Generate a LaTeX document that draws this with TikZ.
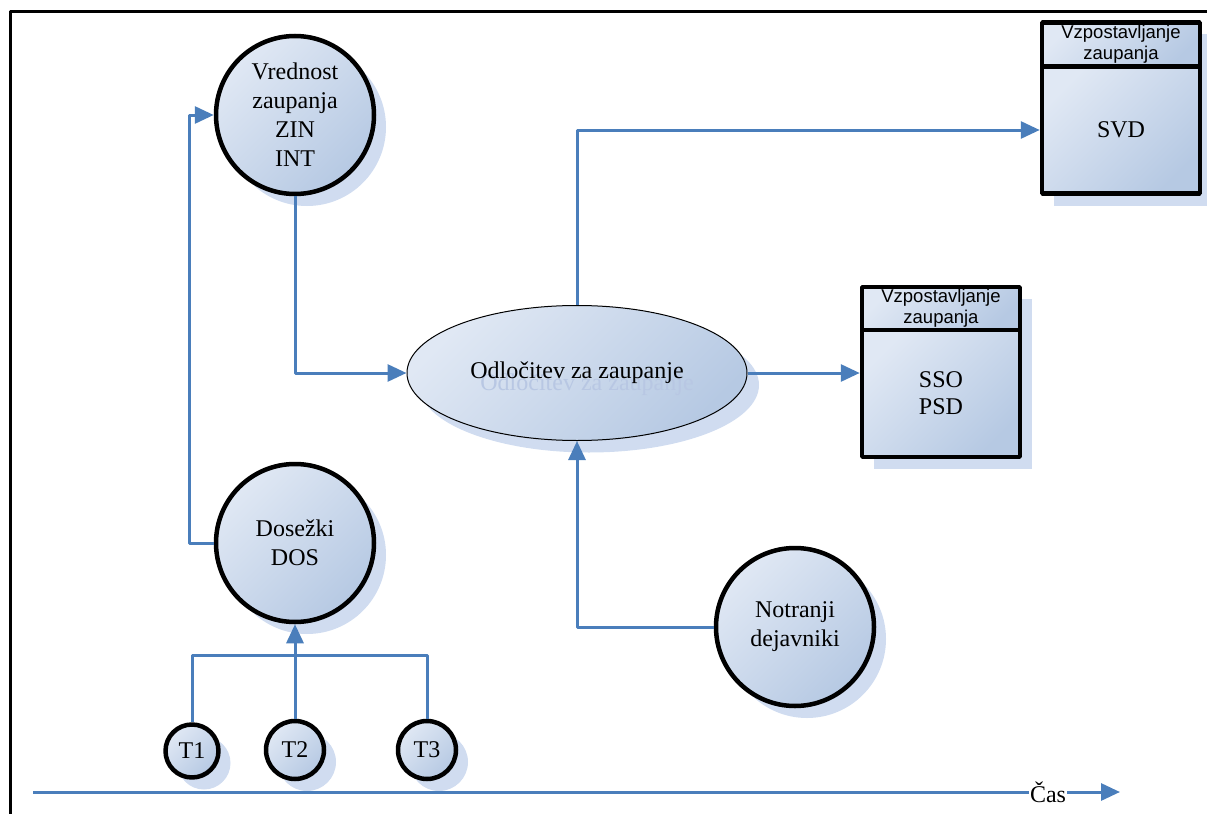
\documentclass[tikz,border=0pt]{standalone}
\usepackage{fontspec}
\setmainfont{Liberation Serif}
\newfontfamily\headfont{Liberation Sans}
\usetikzlibrary{shapes.geometric,shadows,arrows.meta}

\definecolor{edgecol}{RGB}{74,126,187}
\definecolor{filllt}{RGB}{224,232,244}
\definecolor{filldk}{RGB}{182,201,227}
\definecolor{shadecol}{RGB}{208,220,240}
\definecolor{ghostcol}{RGB}{184,199,227}

\begin{document}
\begin{tikzpicture}[x=1bp,y=-1bp,>={Triangle[length=19bp,width=17bp]},line join=bevel,
  flow/.style={draw=edgecol,line width=3bp},
  softfill/.style={top color=filllt,bottom color=filldk,shading angle=45},
  dropped/.style={drop shadow={shadow xshift=12bp,shadow yshift=-12bp,fill=shadecol,opacity=1}},
  bubble/.style={circle,draw=black,line width=4.5bp,softfill,dropped,inner sep=0pt,align=center,
    font=\fontsize{24bp}{29bp}\selectfont},
  boxbody/.style={rectangle,draw=black,line width=4.5bp,softfill,dropped,minimum width=158bp,
    minimum height=127bp,align=center,font=\fontsize{24bp}{27bp}\selectfont},
  boxhead/.style={rectangle,draw=black,line width=4.5bp,softfill,dropped,minimum width=158bp,
    minimum height=44bp,inner sep=0pt,align=center,font=\headfont\fontsize{18.5bp}{21bp}\selectfont},
  ]
  \useasboundingbox (0,0) rectangle (1207,814);
%%
  % Frame
  \draw [line width=3bp] (10,820) -- (10,12) -- (1215,12);
  % Node: vred
  \node [bubble,minimum size=158bp] (vred) at (295,115) {Vrednost\\zaupanja\\ZIN\\INT};
  % Node: dos
  \node [bubble,minimum size=158bp] (dos) at (295,543) {Dose\v{z}ki\\DOS};
  % Node: notr
  \node [bubble,minimum size=158bp] (notr) at (795,627) {Notranji\\dejavniki};
  % Node: t1, t2, t3
  \node [bubble,minimum size=53bp] (t1) at (192,751) {T1};
  \node [bubble,minimum size=58bp] (t2) at (295,750) {T2};
  \node [bubble,minimum size=58bp] (t3) at (427,750) {T3};
  % Node: dec
  \node [ellipse,draw=black,line width=1bp,softfill,dropped,minimum width=340bp,minimum height=135bp,
    font=\fontsize{24bp}{29bp}\selectfont] (dec) at (577,373) {};
  \node [text=ghostcol,font=\fontsize{24bp}{29bp}\selectfont] (decghost) at (587,385) {Odlo\v{c}itev za zaupanje};
  \node [font=\fontsize{24bp}{29bp}\selectfont] (declabel) at (dec.center) {Odlo\v{c}itev za zaupanje};
  % Node: svd
  \node [boxhead] (svdhead) at (1121,44.5) {Vzpostavljanje\\zaupanja};
  \node [boxbody] (svd) at (1121,130) {SVD};
  % Node: sso
  \node [boxhead,minimum height=43bp] (ssohead) at (941,308.5) {Vzpostavljanje\\zaupanja};
  \node [boxbody] (sso) at (941,393.5) {SSO\\PSD};
  % Edge: dos -> vred
  \draw [flow,->] (dos.west) -- ++(-24,0) |- (vred.west);
  % Edge: vred -> dec
  \draw [flow,->] (vred.south) |- (dec.west);
  % Edge: dec -> svd
  \draw [flow,->] (dec.north) |- (svd.west);
  % Edge: dec -> sso
  \draw [flow,->] (dec.east) -- (dec.east -| sso.west);
  % Edge: notr -> dec
  \draw [flow,->] (notr.west) -| (dec.south);
  % Edge: t1, t2, t3 -> dos
  \coordinate (bus) at (295,655);
  \draw [flow] (t1.north) |- (bus) -| (t3.north);
  \draw [flow,->] (t2.north) -- (dos.south);
  % Time axis
  \coordinate (tstart) at (33,792);
  \coordinate (tend) at (1120,792);
  \draw [flow,->] (tstart) -- (tend);
  \node [fill=white,inner sep=1bp,font=\fontsize{24bp}{29bp}\selectfont] (cas) at (1048,792) {\v{C}as};
%
\end{tikzpicture}
\end{document}
